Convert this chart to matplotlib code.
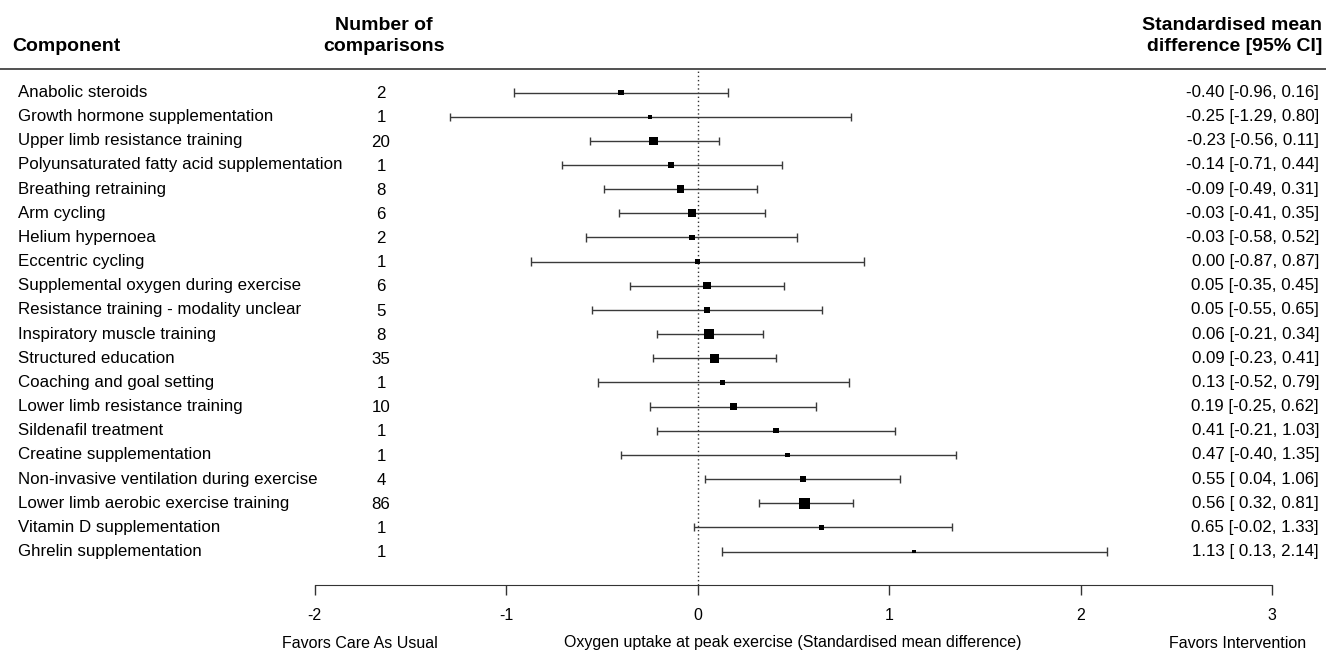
import numpy as np
import matplotlib
matplotlib.use("Agg")
import matplotlib.pyplot as plt
import matplotlib.transforms as mtransforms

plt.rcParams['font.family'] = ['Liberation Sans', 'DejaVu Sans']

components = [
    "Anabolic steroids",
    "Growth hormone supplementation",
    "Upper limb resistance training",
    "Polyunsaturated fatty acid supplementation",
    "Breathing retraining",
    "Arm cycling",
    "Helium hypernoea",
    "Eccentric cycling",
    "Supplemental oxygen during exercise",
    "Resistance training - modality unclear",
    "Inspiratory muscle training",
    "Structured education",
    "Coaching and goal setting",
    "Lower limb resistance training",
    "Sildenafil treatment",
    "Creatine supplementation",
    "Non-invasive ventilation during exercise",
    "Lower limb aerobic exercise training",
    "Vitamin D supplementation",
    "Ghrelin supplementation",
]
n_comparisons = [2, 1, 20, 1, 8, 6, 2, 1, 6, 5, 8, 35, 1, 10, 1, 1, 4, 86, 1, 1]
estimate = [-0.40, -0.25, -0.23, -0.14, -0.09, -0.03, -0.03, 0.00, 0.05, 0.05,
            0.06, 0.09, 0.13, 0.19, 0.41, 0.47, 0.55, 0.56, 0.65, 1.13]
ci_low = [-0.96, -1.29, -0.56, -0.71, -0.49, -0.41, -0.58, -0.87, -0.35, -0.55,
          -0.21, -0.23, -0.52, -0.25, -0.21, -0.40, 0.04, 0.32, -0.02, 0.13]
ci_high = [0.16, 0.80, 0.11, 0.44, 0.31, 0.35, 0.52, 0.87, 0.45, 0.65,
           0.34, 0.41, 0.79, 0.62, 1.03, 1.35, 1.06, 0.81, 1.33, 2.14]
x_ticks = [-2, -1, 0, 1, 2, 3]

W, H = 1326, 652
fig = plt.figure(figsize=(W / 100, H / 100), dpi=100)

# pixel geometry
x_left_px, x_right_px = 314.5, 1272.0
top_px, bottom_px = 69.0, 585.0
first_row_px, last_row_px = 92.5, 551.5
n = len(components)
step = (last_row_px - first_row_px) / (n - 1)

ax = fig.add_axes([x_left_px / W, 1 - bottom_px / H,
                   (x_right_px - x_left_px) / W, (bottom_px - top_px) / H])
ax.set_xlim(-2, 3)
ax.set_ylim((n - 1) + (bottom_px - last_row_px) / step,
            -(first_row_px - top_px) / step)
rows = np.arange(n)

est = np.array(estimate)
lo = np.array(ci_low)
hi = np.array(ci_high)
se = (hi - lo) / 3.92
w = 1 / se
psize = 0.5 + (w - w.min()) / (w.max() - w.min())
side_px = psize * 7.5

# CI lines
line_col = '#3a3a3a'
ax.hlines(rows, lo, hi, color=line_col, lw=1.0)
cap = 0.17
ax.vlines(lo, rows - cap, rows + cap, color=line_col, lw=1.0)
ax.vlines(hi, rows - cap, rows + cap, color=line_col, lw=1.0)
# squares
ax.scatter(est, rows, marker='s', s=(side_px * 0.72) ** 2, color='black',
           zorder=3, linewidths=0)

# reference line
ax.axvline(0, color='#333333', lw=1.0, ls=(0, (1, 2)), zorder=1)

for s in ['top', 'right', 'left']:
    ax.spines[s].set_visible(False)
ax.spines['bottom'].set_color('#333333')
ax.set_yticks([])
ax.set_xticks(x_ticks)
ax.set_xticklabels([str(t) for t in x_ticks])
ax.tick_params(axis='x', length=7.2, width=1, color='#333333', labelsize=11.5,
               pad=9)
ax.spines['bottom'].set_bounds(-2, 3)

fs = 12.2
tr_left = mtransforms.blended_transform_factory(fig.transFigure, ax.transData)
for i in range(n):
    ax.text(18 / W, rows[i], components[i], transform=tr_left, ha='left',
            va='center', fontsize=fs)
    ax.text(381 / W, rows[i] + 0.05, str(n_comparisons[i]), transform=tr_left,
            ha='center', va='center', fontsize=fs)
    lo_s = f"{lo[i]:.2f}"
    if lo[i] >= 0:
        lo_s = " " + lo_s
    label = f"{est[i]:.2f} [{lo_s}, {hi[i]:.2f}]"
    ax.text(1319 / W, rows[i], label, transform=tr_left, ha='right',
            va='center', fontsize=fs)

# headers
hfs = 14
fig.text(12 / W, 1 - 51 / H, "Component", ha='left', va='baseline',
         fontsize=hfs, fontweight='bold')
fig.text(384 / W, 1 - 29.5 / H, "Number of", ha='center', va='baseline',
         fontsize=hfs, fontweight='bold')
fig.text(384 / W, 1 - 51 / H, "comparisons", ha='center', va='baseline',
         fontsize=hfs, fontweight='bold')
fig.text(1322 / W, 1 - 29.5 / H, "Standardised mean", ha='right',
         va='baseline', fontsize=hfs, fontweight='bold')
fig.text(1322 / W, 1 - 51 / H, "difference [95% CI]", ha='right',
         va='baseline', fontsize=hfs, fontweight='bold')
fig.add_artist(plt.Line2D([0, 1], [1 - top_px / H, 1 - top_px / H],
                          transform=fig.transFigure, color='#333333', lw=1.2))

# bottom labels
tr_bot = mtransforms.blended_transform_factory(ax.transData, fig.transFigure)
bfs = 11.5
fig.text(360 / W, 1 - 643 / H, "Favors Care As Usual",
         ha='center', va='center', fontsize=bfs)
ax.text(0.5, 1 - 643 / H,
        "Oxygen uptake at peak exercise (Standardised mean difference)",
        transform=tr_bot, ha='center', va='center', fontsize=bfs)
fig.text(1238 / W, 1 - 643 / H, "Favors Intervention",
         ha='center', va='center', fontsize=bfs)

fig.savefig("out.png", dpi=100)
